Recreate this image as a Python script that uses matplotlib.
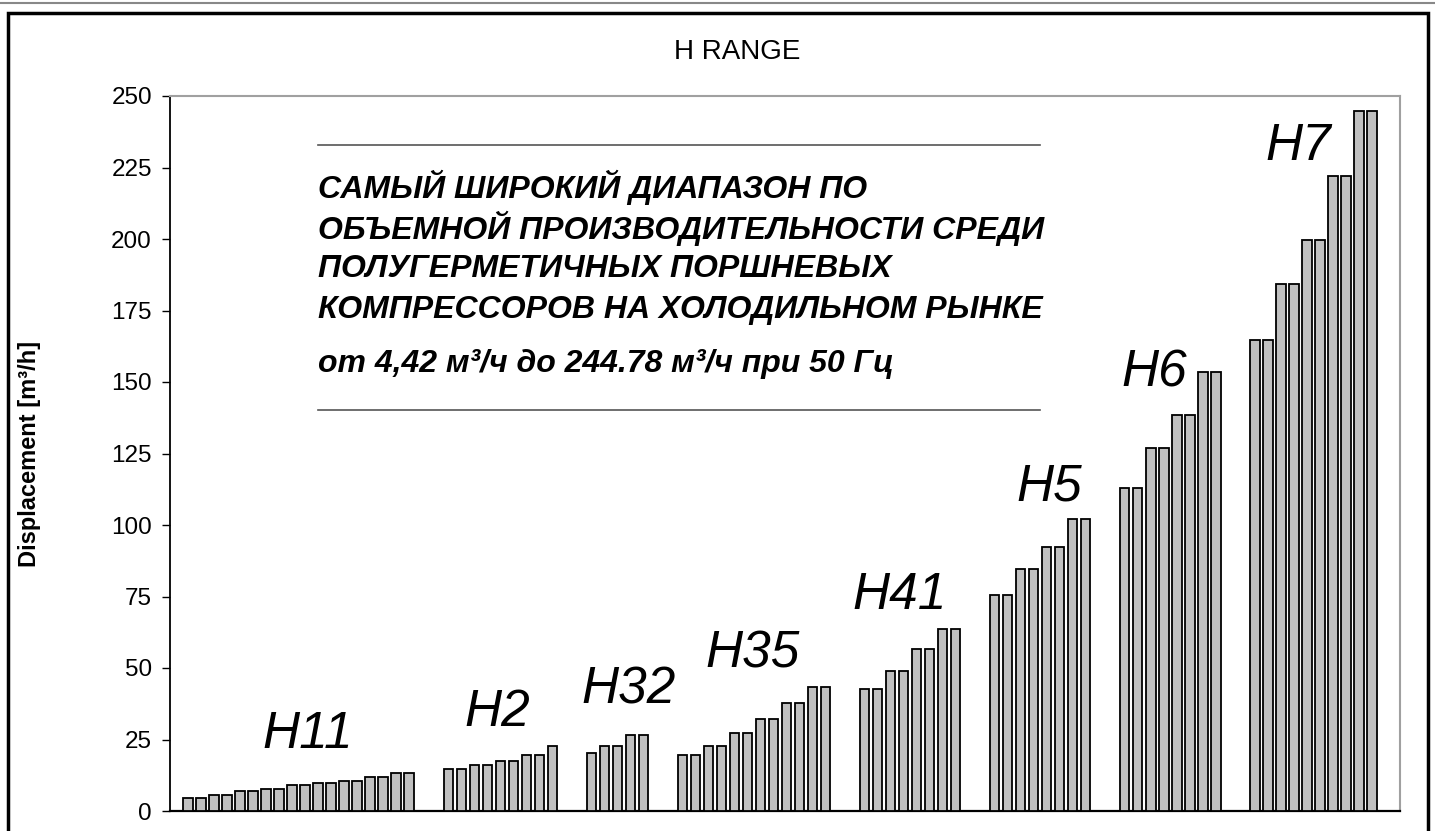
import matplotlib.pyplot as plt
from matplotlib.lines import Line2D
from matplotlib.patches import Rectangle

W, H = 1435, 831

# displacement per model, grouped by series [m3/h]
groups = ["H11", "H2", "H32", "H35", "H41", "H5", "H6", "H7"]
h11 = [4.42, 4.42, 5.6, 5.6, 6.9, 6.9, 7.6, 7.6, 9.0, 9.0, 9.8, 9.8, 10.5, 10.5, 11.8, 11.8, 13.2, 13.2]
h2 = [14.8, 14.8, 16.1, 16.1, 17.5, 17.5, 19.6, 19.6, 22.9]
h32 = [20.2, 22.9, 22.9, 26.4, 26.4]
h35 = [19.5, 19.5, 22.9, 22.9, 27.1, 27.1, 32.0, 32.0, 37.6, 37.6, 43.3, 43.3]
h41 = [42.5, 42.5, 48.8, 48.8, 56.5, 56.5, 63.5, 63.5]
h5 = [75.4, 75.4, 84.5, 84.5, 92.3, 92.3, 102.0, 102.0]
h6 = [113.0, 113.0, 127.0, 127.0, 138.3, 138.3, 153.5, 153.5]
h7 = [164.7, 164.7, 184.2, 184.2, 199.6, 199.6, 222.0, 222.0, 244.78, 244.78]
series = [h11, h2, h32, h35, h41, h5, h6, h7]

yticks = list(range(0, 251, 25))

# where the series names sit (data coords)
label_x = [9.2, 23.8, 33.9, 43.4, 54.7, 66.2, 74.3, 85.3]
label_y = [26.6, 34.6, 42.3, 54.9, 75.2, 113.3, 153.1, 232.5]

text_lines = [
    "САМЫЙ ШИРОКИЙ ДИАПАЗОН ПО",
    "ОБЪЕМНОЙ ПРОИЗВОДИТЕЛЬНОСТИ СРЕДИ",
    "ПОЛУГЕРМЕТИЧНЫХ ПОРШНЕВЫХ",
    "КОМПРЕССОРОВ НА ХОЛОДИЛЬНОМ РЫНКЕ",
]
range_line = "от 4,42 м³/ч до 244.78 м³/ч при 50 Гц"

FONT = ["Liberation Sans", "DejaVu Sans"]


def fx(px):
    return px / W


def fy(py):
    return 1 - py / H


fig = plt.figure(figsize=(W / 100, H / 100), dpi=100)
ax = fig.add_axes([fx(170), fy(811), fx(1400) - fx(170), fy(96) - fy(811)])

# x positions: categories with two empty slots between groups
xs, ys = [], []
pos = 0
for vals in series:
    for v in vals:
        xs.append(pos)
        ys.append(v)
        pos += 1
    pos += 2

ax.bar(xs, ys, width=0.72, color="#c0c0c0", edgecolor="black", linewidth=1.3, zorder=3)

ax.set_xlim(-1.38, 93.15)
ax.set_ylim(0, 250)
ax.set_yticks(yticks)
ax.set_xticks([])
ax.tick_params(axis="y", direction="out", length=6, width=1, labelsize=17.5, pad=7)
for lab in ax.get_yticklabels():
    lab.set_family(FONT)

ax.spines["left"].set_color("black")
ax.spines["bottom"].set_color("black")
ax.spines["left"].set_linewidth(1.3)
ax.spines["bottom"].set_linewidth(1.6)
ax.spines["top"].set_color("#a0a0a0")
ax.spines["right"].set_color("#a0a0a0")
ax.spines["top"].set_linewidth(1.5)
ax.spines["right"].set_linewidth(1.5)

for name, lx, ly in zip(groups, label_x, label_y):
    ax.text(lx, ly, name, ha="center", va="center", fontsize=37, style="italic",
            family=FONT, zorder=4)

ax.set_ylabel("Displacement [m³/h]", fontsize=17, fontweight="bold", family=FONT)
ax.yaxis.set_label_coords((fx(41) - fx(170)) / (fx(1400) - fx(170)), 0.5)

fig.text(fx(737), fy(52), "H RANGE", ha="center", va="center", fontsize=20, family=FONT)

# headline block
for i, line in enumerate(text_lines):
    fig.text(fx(318), fy(187 + i * 41), line, ha="left", va="center", fontsize=23,
             fontweight="bold", style="italic", family=FONT)
fig.text(fx(318), fy(364), range_line, ha="left", va="center", fontsize=23,
         fontweight="bold", style="italic", family=FONT)

for yy in (145, 410):
    fig.add_artist(Line2D([fx(318), fx(1040)], [fy(yy), fy(yy)], color="#555555", lw=1.2))

# outer frame and the grey rule above it
fig.add_artist(Line2D([0, 1], [fy(3), fy(3)], color="#888888", lw=1.5))
fig.add_artist(Rectangle((fx(8), -0.02), fx(1428) - fx(8), fy(13) + 0.02, fill=False,
                         edgecolor="black", lw=2.5, transform=fig.transFigure))

fig.savefig("out.png", dpi=100)
